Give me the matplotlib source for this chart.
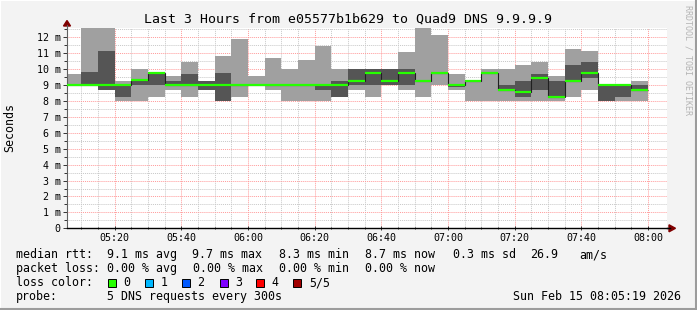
import matplotlib
matplotlib.use("Agg")
import matplotlib.pyplot as plt
from matplotlib.patches import Rectangle, Polygon
from matplotlib.lines import Line2D

# --- data (ms), one 5-minute bin per entry ---
bin_start = ["05:05", "05:10", "05:15", "05:20", "05:25", "05:30", "05:35",
             "05:40", "05:45", "05:50", "05:55", "06:00", "06:05", "06:10",
             "06:15", "06:20", "06:25", "06:30", "06:35", "06:40", "06:45",
             "06:50", "06:55", "07:00", "07:05", "07:10", "07:15", "07:20",
             "07:25", "07:30", "07:35", "07:40", "07:45", "07:50", "07:55"]
ping_min = [9.0, 9.0, 8.69, 8.0, 8.0, 8.27, 8.7, 8.27, 8.69, 8.0, 8.27, 9.0,
            8.69, 8.0, 8.0, 8.0, 8.27, 8.69, 8.27, 9.0, 8.69, 8.27, 9.0, 8.69,
            8.0, 8.0, 8.0, 8.0, 8.0, 8.0, 8.27, 8.7, 8.0, 8.0, 8.0]
ping_lo = [9.0, 9.0, 8.69, 8.27, 9.0, 9.0, 9.0, 9.0, 8.69, 8.0, 9.0, 9.0,
           9.0, 9.0, 9.0, 8.69, 8.27, 9.0, 9.0, 9.0, 9.0, 9.26, 9.74, 8.9,
           9.26, 9.74, 8.69, 8.27, 8.69, 8.27, 9.26, 9.47, 8.0, 8.27, 8.69]
median = [9.0, 9.0, 9.0, 9.0, 9.3, 9.74, 9.0, 9.0, 9.0, 9.0, 9.0, 9.0,
          9.0, 9.0, 9.0, 9.0, 9.0, 9.28, 9.74, 9.26, 9.74, 9.26, 9.74, 9.0,
          9.26, 9.74, 8.72, 8.58, 9.47, 8.27, 9.26, 9.74, 9.0, 9.0, 8.69]
ping_hi = [9.0, 9.84, 11.14, 9.0, 9.3, 9.74, 9.26, 9.7, 9.26, 9.74, 9.0, 9.0,
           9.0, 9.0, 9.0, 9.0, 9.26, 10.0, 10.0, 10.0, 10.0, 9.26, 9.74, 9.0,
           9.26, 9.74, 9.0, 9.26, 9.7, 9.26, 10.26, 10.45, 9.0, 9.0, 9.0]
ping_max = [9.7, 13.0, 13.0, 9.26, 10.0, 9.74, 9.57, 10.45, 9.26, 10.84,
            11.9, 9.57, 10.7, 10.0, 10.58, 11.45, 10.0, 10.0, 10.0, 10.0,
            11.08, 13.0, 12.15, 9.7, 9.26, 10.0, 10.0, 10.26, 10.45, 9.57,
            11.27, 11.14, 9.0, 9.0, 9.26]

x_ticks = ["05:20", "05:40", "06:00", "06:20", "06:40", "07:00", "07:20",
           "07:40", "08:00"]
y_ticks = [0, 1, 2, 3, 4, 5, 6, 7, 8, 9, 10, 11, 12]

loss_labels = ["0", "1", "2", "3", "4", "5/5"]
loss_colors = ["#26ff00", "#00b8ff", "#0059ff", "#7e00ff", "#ff0000", "#a10000"]

W, H = 697, 310
MONO = "DejaVu Sans Mono"


def mins(s):
    h, m = s.split(":")
    return (int(h) - 5) * 60 + int(m)


def fx(px):
    return px / W


def fy(py):
    return 1 - py / H


starts = [mins(s) for s in bin_start]
step = 5
ends = [s + step for s in starts]

fig = plt.figure(figsize=(W / 100, H / 100), dpi=100, facecolor="#f3f3f3")
ax = fig.add_axes([fx(67), fy(228.3), 600 / W, 200 / H])
ax.set_facecolor("white")

# smoke: full range light, inner range dark
ax.bar(starts, [b - a for a, b in zip(ping_min, ping_max)], bottom=ping_min,
       width=step, align="edge", color="#a0a0a0", linewidth=0, zorder=2)
ax.bar(starts, [b - a for a, b in zip(ping_lo, ping_hi)], bottom=ping_lo,
       width=step, align="edge", color="#555555", linewidth=0, zorder=3)
ax.stairs(median, starts + [ends[-1]], baseline=None, color="#202020",
          linewidth=0.8, zorder=4)
ax.hlines(median, starts, ends, color="#26ff00", linewidth=1.6, zorder=5)

ax.set_xlim(5.7, 185.7)
ax.set_ylim(0, 12.57)

ax.set_xticks([mins(t) for t in x_ticks])
ax.set_xticklabels(x_ticks)
ax.set_xticks(range(10, 185, 5), minor=True)
ax.set_yticks(y_ticks)
ax.set_yticklabels(["0" if v == 0 else f"{v} m" for v in y_ticks])
ax.set_yticks([v + 0.5 for v in y_ticks], minor=True)

ax.grid(which="minor", color="#c8c8c8", linestyle=(0, (1, 1)), linewidth=0.7,
        zorder=1)
ax.grid(which="major", color="#ff9a9a", linestyle=(0, (1, 1)), linewidth=0.7,
        zorder=1)
ax.set_axisbelow(True)

ax.tick_params(axis="both", which="both", labelsize=7.2, labelfontfamily=MONO,
               colors="#333333", labelcolor="black")
ax.tick_params(axis="y", which="major", length=3, width=0.7, pad=1.5)
ax.tick_params(axis="y", which="minor", length=2, width=0.7)
ax.tick_params(axis="x", which="major", length=3, width=0.7, pad=2,
               direction="inout")
ax.tick_params(axis="x", which="minor", length=2, width=0.7, direction="inout")

for side in ["top", "right"]:
    ax.spines[side].set_visible(False)
ax.spines["left"].set_color("#606060")
ax.spines["left"].set_linewidth(0.8)
ax.spines["bottom"].set_color("black")
ax.spines["bottom"].set_linewidth(1.0)

# axis extensions with arrow heads
fig.add_artist(Line2D([fx(67), fx(67)], [fy(28.3), fy(25)], color="#606060",
                      linewidth=0.8))
fig.add_artist(Polygon([(fx(63.5), fy(26)), (fx(70.5), fy(26)), (fx(67), fy(20.5))],
                       closed=True, color="#800000", transform=fig.transFigure))
fig.add_artist(Line2D([fx(667), fx(670)], [fy(228.3), fy(228.3)], color="black",
                      linewidth=1.0))
fig.add_artist(Polygon([(fx(669), fy(224.8)), (fx(669), fy(231.8)), (fx(675.5), fy(228.3))],
                       closed=True, color="#800000", transform=fig.transFigure))

# title, axis label, watermark
fig.text(fx(348), fy(19), "Last 3 Hours from e05577b1b629 to Quad9 DNS 9.9.9.9",
         ha="center", va="center", fontsize=9.5, family=MONO)
fig.text(fx(10), fy(128), "Seconds", rotation=90, ha="center", va="center",
         fontsize=8.4, family=MONO)
fig.text(fx(688), fy(5), "RRDTOOL / TOBI OETIKER", rotation=-90, ha="center",
         va="top", fontsize=6, family=MONO, color="#b4b4b4")

# legend rows
rows = [
    (254.5, [(16, "median rtt:"), (106.7, "9.1 ms avg"), (192.4, "9.7 ms max"),
             (279.1, "8.3 ms min"), (365.3, "8.7 ms now"), (453.3, "0.3 ms sd"),
             (529.8, "26.9"), (579.1, "am/s")]),
    (268.5, [(16, "packet loss:"), (106.7, "0.00 % avg"), (193.3, "0.00 % max"),
             (279, "0.00 % min"), (365.3, "0.00 % now")]),
    (282.5, [(16, "loss color:")]),
    (296.5, [(16, "probe:"), (106.7, "5 DNS requests every 300s")]),
]
for y, items in rows:
    for x, s in items:
        fig.text(fx(x), fy(y), s, ha="left", va="center", fontsize=8.4,
                 family=MONO)
fig.text(fx(681), fy(296.5), "Sun Feb 15 08:05:19 2026", ha="right",
         va="center", fontsize=8.4, family=MONO)

box_x = [108, 145.3, 182, 219.6, 256.4, 293.3]
for bx, lab, col in zip(box_x, loss_labels, loss_colors):
    fig.add_artist(Rectangle((fx(bx), fy(286.5)), 8 / W, 8 / H, facecolor=col,
                             edgecolor="black", linewidth=0.7,
                             transform=fig.transFigure))
    fig.text(fx(bx + 15.5), fy(282.5), lab, ha="left", va="center",
             fontsize=8.4, family=MONO)

# 3d frame
fig.add_artist(Line2D([0, 0, 1], [0, 1, 1], color="white", linewidth=1.5,
                      transform=fig.transFigure))
fig.add_artist(Line2D([0, 1, 1], [fy(309), fy(309), 1], color="#9c9c9c",
                      linewidth=1.5, transform=fig.transFigure))
fig.add_artist(Line2D([fx(696), fx(696)], [0, 1], color="#9c9c9c",
                      linewidth=1.5, transform=fig.transFigure))

fig.savefig("out.png", dpi=100, facecolor=fig.get_facecolor())
